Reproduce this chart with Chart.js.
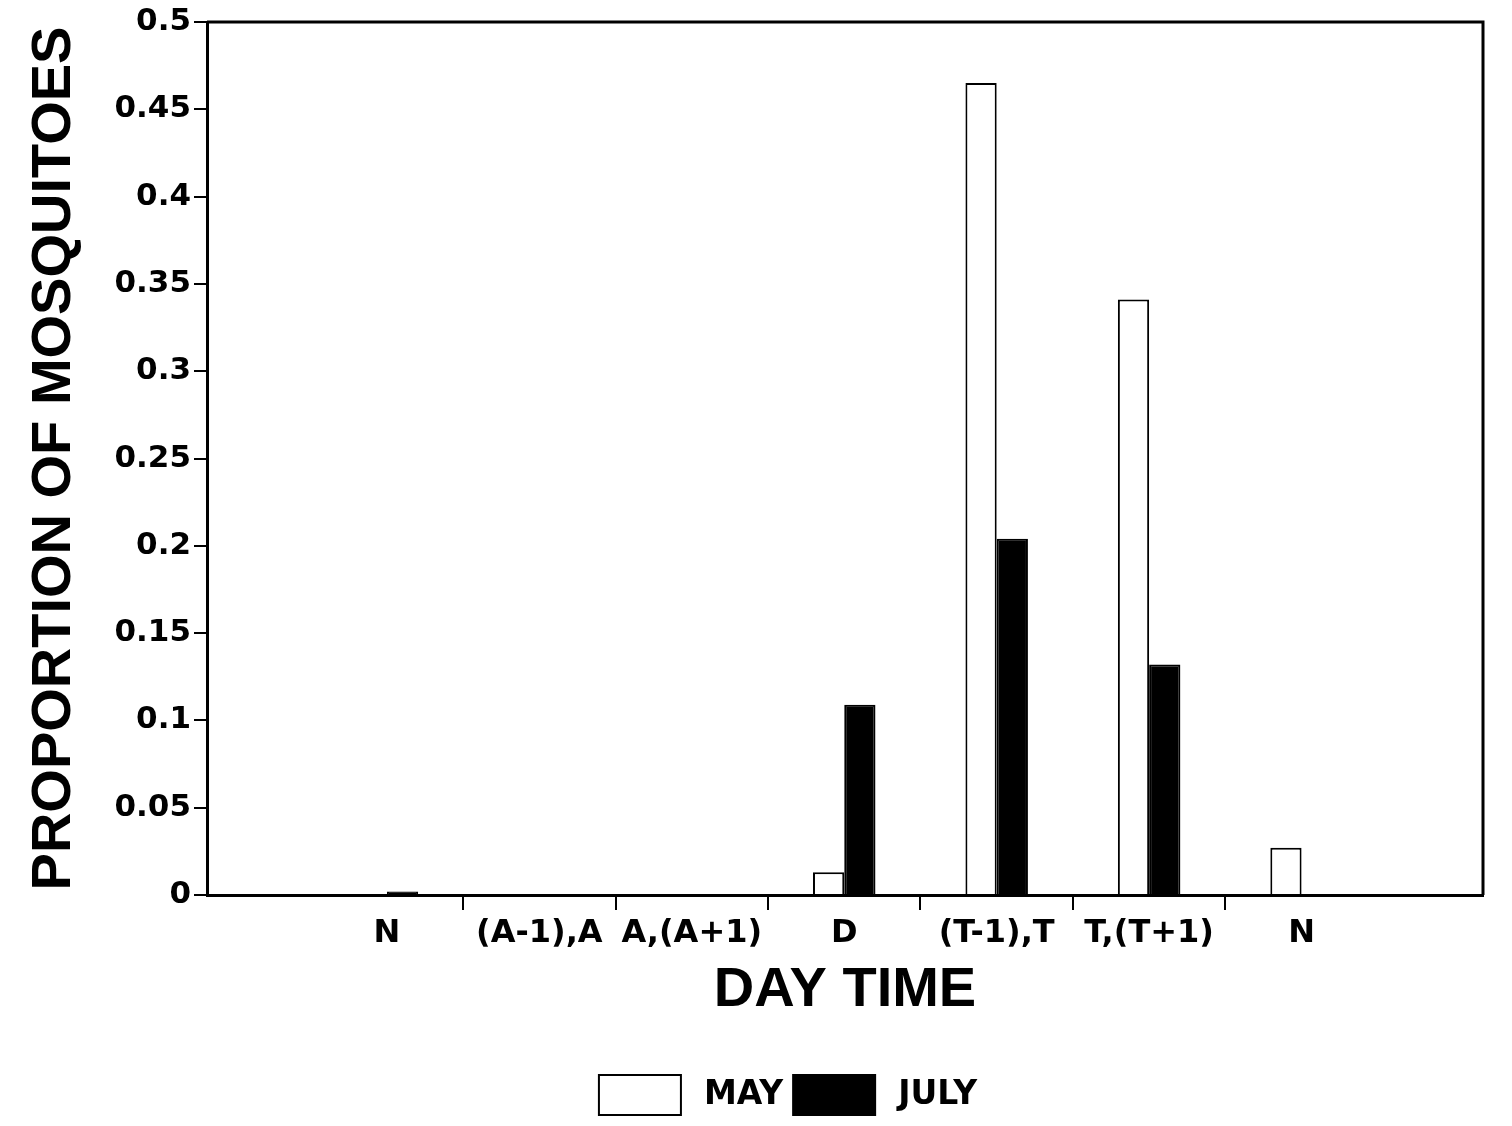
<!DOCTYPE html>
<html>
<head>
<meta charset="utf-8">
<script src="https://cdn.jsdelivr.net/npm/chart.js@4"></script>
<style>
    body { margin: 0; background: #fff; }
    #wrap { width: 1512px; height: 1126px; }
</style>
</head>
<body>
<div id="wrap"><canvas id="mosquitoChart"></canvas></div>
<script>
const categories = ["N", "(A-1),A", "A,(A+1)", "D", "(T-1),T", "T,(T+1)", "N"];
const mayValues = [0, 0, 0, 0.013, 0.465, 0.341, 0.027];
const julyValues = [0.002, 0, 0, 0.109, 0.204, 0.132, 0];
const yMax = 0.5;
const yStep = 0.05;

// bars sit at category index on a linear axis, so the empty margins match the original
function toPoints(values) {
    return values.map((v, i) => ({ x: i, y: v }));
}

// outline along the top and right of the plot
const frame = {
    id: "frame",
    afterDraw(chart) {
        const { ctx, chartArea } = chart;
        ctx.save();
        ctx.strokeStyle = "#000";
        ctx.lineWidth = 3;
        ctx.beginPath();
        ctx.moveTo(chartArea.left, chartArea.top);
        ctx.lineTo(chartArea.right, chartArea.top);
        ctx.lineTo(chartArea.right, chartArea.bottom);
        ctx.stroke();
        ctx.restore();
    }
};

const tickFont = { family: "'DejaVu Sans', sans-serif", weight: "bold", size: 31 };

new Chart(document.getElementById("mosquitoChart"), {
    type: "bar",
    data: {
        datasets: [
            {
                label: "MAY",
                data: toPoints(mayValues),
                backgroundColor: "#fff",
                borderColor: "#000",
                borderWidth: 2
            },
            {
                label: "JULY",
                data: toPoints(julyValues),
                backgroundColor: "#000",
                borderColor: "#000",
                borderWidth: 2
            }
        ]
    },
    options: {
        responsive: true,
        maintainAspectRatio: false,
        animation: false,
        // tick spacing is half a category, so this is measured against that
        categoryPercentage: 0.82,
        barPercentage: 1,
        layout: {
            padding: { top: 22, left: 93, right: 29, bottom: 1 }
        },
        plugins: {
            tooltip: { enabled: false },
            legend: {
                position: "bottom",
                labels: {
                    color: "#000",
                    boxWidth: 82,
                    boxHeight: 40,
                    padding: 10,
                    font: { family: "'DejaVu Sans', sans-serif", weight: "bold", size: 33 },
                    generateLabels: (chart) => Chart.defaults.plugins.legend.labels.generateLabels(chart)
                        .map(l => ({ ...l, text: "\u2009" + l.text }))
                }
            }
        },
        scales: {
            x: {
                type: "linear",
                min: -1.18,
                max: categories.length - 1 + 1.19,
                offset: false,
                afterBuildTicks: (scale) => {
                    const t = [];
                    categories.forEach((c, i) => {
                        t.push({ value: i });
                        if (i < categories.length - 1) t.push({ value: i + 0.5 });
                    });
                    scale.ticks = t;
                },
                afterFit: (scale) => { scale.height = 170; },
                grid: {
                    offset: false,
                    drawOnChartArea: false,
                    tickLength: 15,
                    lineWidth: 2,
                    tickColor: (ctx) => Number.isInteger(ctx.tick && ctx.tick.value) ? "rgba(0,0,0,0)" : "#000"
                },
                border: { color: "#000", width: 3 },
                ticks: {
                    autoSkip: false,
                    maxRotation: 0,
                    padding: 4,
                    color: "#000",
                    font: { ...tickFont, size: 32 },
                    callback: (value) => Number.isInteger(value) ? categories[value] : ""
                },
                title: {
                    display: true,
                    text: "DAY TIME",
                    color: "#000",
                    padding: { top: 0, bottom: 41 },
                    font: { family: "'Liberation Sans', Arial, sans-serif", weight: "bold", size: 56 }
                }
            },
            y: {
                min: 0,
                max: yMax,
                afterFit: (scale) => { scale.width = 114; },
                grid: {
                    drawOnChartArea: false,
                    tickLength: 13,
                    lineWidth: 2,
                    tickColor: "#000"
                },
                border: { color: "#000", width: 3 },
                ticks: {
                    stepSize: yStep,
                    padding: 3,
                    color: "#000",
                    font: tickFont,
                    callback: (v) => String(+v.toFixed(2))
                },
                title: {
                    display: true,
                    text: "PROPORTION OF MOSQUITOES",
                    color: "#000",
                    padding: { top: -72, bottom: 0 },
                    font: { family: "'Liberation Sans', Arial, sans-serif", weight: "bold", size: 56 }
                }
            }
        }
    },
    plugins: [frame]
});
</script>
</body>
</html>
